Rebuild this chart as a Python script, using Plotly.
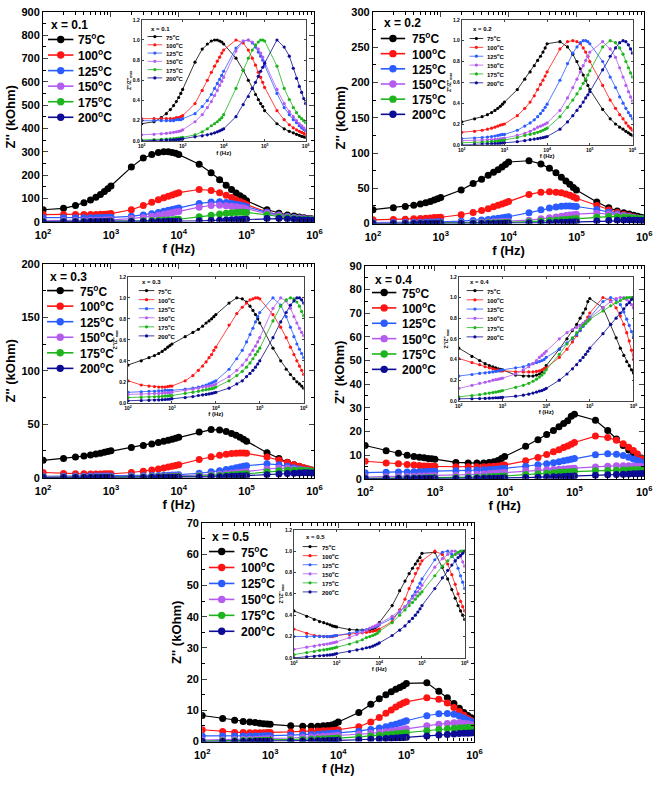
import plotly.graph_objects as go

W, H = 661, 785
FONT = "Arial, Liberation Sans, sans-serif"

# ---------------- data ----------------
freq_hz = [100, 200, 300, 400, 500, 600, 700, 800, 900,
           1e3, 2e3, 3e3, 4e3, 5e3, 6e3, 7e3, 8e3, 9e3,
           1e4, 2e4, 3e4, 4e4, 5e4, 6e4, 7e4, 8e4, 9e4,
           1e5, 2e5, 3e5, 4e5, 5e5, 6e5, 7e5, 8e5, 9e5, 1e6]
temps = ["75", "100", "125", "150", "175", "200"]
compositions = ["0.1", "0.2", "0.3", "0.4", "0.5"]
x_ticks = [1e2, 1e3, 1e4, 1e5, 1e6]
x_ticktext = ["10<sup>2</sup>", "10<sup>3</sup>", "10<sup>4</sup>", "10<sup>5</sup>", "10<sup>6</sup>"]

# normalized Z''/Z''max (insets); main curve = normalized * peak (kOhm)
n01_75 = [0.17,0.19,0.23,0.27,0.31,0.35,0.39,0.43,0.47, 0.51,0.78,0.91,0.96,0.99,1.00,1.00,0.99,0.98, 0.96,0.82,0.70,0.60,0.52,0.46,0.41,0.37,0.34, 0.30,0.17,0.12,0.095,0.08,0.065,0.055,0.045,0.04, 0.035]
n01_100 = [0.22,0.22,0.22,0.22,0.22,0.22,0.23,0.23,0.24, 0.25,0.37,0.50,0.60,0.68,0.74,0.79,0.83,0.87, 0.90,1.00,0.97,0.90,0.82,0.75,0.68,0.63,0.58, 0.53,0.30,0.21,0.16,0.13,0.11,0.095,0.085,0.075, 0.065]
n01_125 = [0.20,0.20,0.20,0.20,0.20,0.20,0.21,0.21,0.21, 0.22,0.27,0.34,0.40,0.46,0.52,0.57,0.61,0.65, 0.69,0.92,0.99,1.00,0.97,0.93,0.88,0.84,0.80, 0.75,0.47,0.33,0.26,0.21,0.18,0.15,0.13,0.115, 0.10]
n01_150 = [0.06,0.065,0.07,0.075,0.08,0.085,0.09,0.095,0.10, 0.11,0.19,0.26,0.33,0.39,0.45,0.50,0.55,0.59, 0.63,0.89,0.99,1.00,0.98,0.95,0.91,0.87,0.83, 0.78,0.51,0.37,0.29,0.24,0.20,0.17,0.15,0.13, 0.11]
n01_175 = [0.01,0.012,0.015,0.018,0.02,0.022,0.025,0.028,0.03, 0.035,0.06,0.09,0.12,0.15,0.17,0.19,0.21,0.23, 0.26,0.52,0.70,0.82,0.90,0.95,0.98,1.00,1.00, 0.99,0.74,0.52,0.41,0.33,0.28,0.24,0.22,0.20, 0.18]
n01_200 = [0.0,0.003,0.005,0.007,0.009,0.011,0.013,0.015,0.017, 0.02,0.04,0.05,0.06,0.07,0.08,0.09,0.10,0.11, 0.12,0.24,0.36,0.44,0.52,0.58,0.64,0.69,0.73, 0.77,1.00,0.93,0.84,0.72,0.62,0.54,0.48,0.42, 0.37]
peaks_x01 = [300, 138, 85, 70, 40, 14]

n02_75 = [0.22,0.25,0.27,0.29,0.31,0.33,0.35,0.37,0.39, 0.41,0.53,0.63,0.70,0.76,0.81,0.85,0.89,0.93, 0.97,0.99,0.94,0.87,0.80,0.73,0.67,0.62,0.57, 0.53,0.34,0.25,0.20,0.17,0.15,0.13,0.115,0.10, 0.09]
n02_100 = [0.12,0.13,0.14,0.15,0.16,0.17,0.18,0.19,0.195, 0.20,0.28,0.35,0.41,0.47,0.53,0.58,0.62,0.66, 0.70,0.92,0.99,1.00,0.99,0.97,0.93,0.89,0.85, 0.80,0.57,0.43,0.35,0.29,0.25,0.21,0.18,0.16, 0.14]
n02_125 = [0.06,0.065,0.07,0.075,0.08,0.085,0.09,0.095,0.10, 0.10,0.14,0.18,0.21,0.24,0.27,0.30,0.33,0.36, 0.39,0.62,0.78,0.88,0.94,0.98,1.00,1.00,0.99, 0.97,0.80,0.65,0.55,0.46,0.40,0.35,0.31,0.28, 0.25]
n02_150 = [0.04,0.042,0.045,0.048,0.05,0.052,0.055,0.058,0.06, 0.065,0.09,0.11,0.13,0.15,0.17,0.18,0.19,0.20, 0.21,0.33,0.45,0.55,0.63,0.70,0.76,0.81,0.85, 0.89,0.99,0.92,0.84,0.74,0.65,0.57,0.51,0.46, 0.42]
n02_175 = [0.02,0.022,0.025,0.028,0.03,0.033,0.036,0.04,0.043, 0.046,0.07,0.09,0.10,0.11,0.12,0.13,0.14,0.15, 0.16,0.27,0.36,0.43,0.49,0.54,0.59,0.63,0.67, 0.71,0.94,1.00,0.98,0.93,0.87,0.80,0.74,0.69, 0.65]
n02_200 = [0.0,0.003,0.005,0.007,0.009,0.011,0.013,0.015,0.017, 0.02,0.03,0.04,0.05,0.055,0.06,0.065,0.07,0.075, 0.08,0.15,0.22,0.28,0.33,0.37,0.41,0.45,0.48, 0.51,0.72,0.85,0.93,0.98,1.00,0.99,0.96,0.92, 0.88]
peaks_x02 = [90, 45, 25, 15, 10, 5]

n03_75 = [0.36,0.40,0.43,0.45,0.47,0.49,0.51,0.53,0.545, 0.56,0.63,0.67,0.70,0.73,0.76,0.78,0.80,0.82, 0.84,0.95,1.00,0.99,0.96,0.92,0.88,0.84,0.80, 0.76,0.52,0.40,0.32,0.27,0.23,0.20,0.18,0.16, 0.14]
n03_100 = [0.21,0.17,0.16,0.155,0.15,0.15,0.15,0.155,0.16, 0.16,0.21,0.26,0.31,0.35,0.39,0.43,0.46,0.50, 0.53,0.74,0.85,0.91,0.95,0.98,0.99,1.00,1.00, 0.99,0.84,0.72,0.62,0.53,0.46,0.40,0.35,0.31, 0.27]
n03_125 = [0.10,0.105,0.11,0.11,0.115,0.115,0.12,0.12,0.12, 0.12,0.13,0.14,0.15,0.16,0.17,0.18,0.19,0.20, 0.21,0.32,0.42,0.50,0.58,0.65,0.71,0.77,0.82, 0.86,1.00,0.93,0.82,0.72,0.63,0.56,0.51,0.47, 0.43]
n03_150 = [0.08,0.082,0.085,0.088,0.09,0.092,0.094,0.096,0.098, 0.10,0.12,0.13,0.14,0.15,0.155,0.16,0.165,0.17, 0.18,0.25,0.31,0.36,0.41,0.46,0.50,0.54,0.58, 0.62,0.90,1.00,0.97,0.90,0.82,0.76,0.71,0.67, 0.64]
n03_175 = [0.05,0.052,0.055,0.058,0.06,0.062,0.064,0.066,0.068, 0.07,0.09,0.10,0.11,0.12,0.125,0.13,0.135,0.14, 0.15,0.21,0.26,0.30,0.34,0.38,0.42,0.46,0.49, 0.52,0.78,0.92,0.98,1.00,0.99,0.96,0.92,0.87, 0.83]
n03_200 = [0.02,0.022,0.024,0.026,0.028,0.03,0.032,0.034,0.036, 0.04,0.05,0.06,0.07,0.075,0.08,0.085,0.09,0.095, 0.10,0.14,0.18,0.21,0.25,0.28,0.31,0.34,0.37, 0.40,0.62,0.77,0.86,0.93,0.97,1.00,1.00,0.98, 0.95]
peaks_x03 = [45, 23, 13, 9, 7, 4.5]

n04_75 = [0.51,0.43,0.39,0.36,0.34,0.33,0.32,0.31,0.305, 0.30,0.25,0.24,0.24,0.24,0.25,0.26,0.28,0.31, 0.34,0.50,0.60,0.68,0.74,0.80,0.85,0.89,0.96, 0.99,0.90,0.74,0.61,0.51,0.44,0.38,0.34,0.30, 0.27]
n04_100 = [0.41,0.37,0.35,0.33,0.32,0.31,0.30,0.30,0.29, 0.29,0.28,0.28,0.28,0.28,0.285,0.29,0.30,0.31, 0.32,0.42,0.50,0.57,0.63,0.68,0.73,0.77,0.81, 0.85,1.00,0.97,0.90,0.82,0.74,0.66,0.58,0.49, 0.40]
n04_125 = [0.24,0.255,0.265,0.27,0.275,0.28,0.285,0.29,0.295, 0.30,0.32,0.33,0.35,0.36,0.37,0.38,0.39,0.40, 0.42,0.50,0.56,0.60,0.64,0.68,0.72,0.75,0.78, 0.81,0.96,1.00,0.98,0.93,0.86,0.79,0.73,0.67, 0.62]
n04_150 = [0.12,0.15,0.17,0.18,0.19,0.20,0.205,0.21,0.215, 0.22,0.26,0.30,0.33,0.36,0.39,0.42,0.44,0.46, 0.48,0.60,0.66,0.69,0.71,0.73,0.75,0.77,0.78, 0.80,0.90,0.96,0.99,1.00,1.00,0.98,0.96,0.93, 0.90]
n04_175 = [0.04,0.05,0.06,0.07,0.075,0.08,0.085,0.09,0.095, 0.10,0.13,0.15,0.17,0.19,0.21,0.23,0.25,0.27, 0.30,0.45,0.55,0.61,0.66,0.70,0.73,0.75,0.77, 0.79,0.87,0.92,0.95,0.97,0.99,1.00,1.00,1.00, 1.00]
n04_200 = [0.02,0.02,0.022,0.024,0.026,0.028,0.03,0.03,0.032, 0.033,0.045,0.055,0.065,0.075,0.085,0.095,0.10,0.11, 0.12,0.20,0.26,0.31,0.35,0.39,0.42,0.45,0.48, 0.51,0.65,0.74,0.80,0.85,0.89,0.93,0.95,0.98, 1.00]
peaks_x04 = [27.5, 18, 10.5, 5.5, 3.8, 2.2]

n05_75 = [0.44,0.39,0.36,0.34,0.33,0.32,0.31,0.30,0.295, 0.29,0.265,0.26,0.26,0.26,0.265,0.27,0.28,0.30, 0.33,0.49,0.63,0.72,0.79,0.84,0.88,0.91,0.94, 0.98,0.99,0.85,0.74,0.64,0.56,0.49,0.44,0.40, 0.36]
n05_100 = [0.27,0.23,0.21,0.205,0.20,0.20,0.20,0.20,0.205, 0.21,0.22,0.23,0.235,0.24,0.245,0.25,0.255,0.26, 0.27,0.34,0.45,0.55,0.65,0.72,0.79,0.84,0.88, 0.91,1.00,0.97,0.88,0.78,0.69,0.60,0.53,0.48, 0.44]
n05_125 = [0.20,0.20,0.20,0.20,0.20,0.20,0.20,0.205,0.21, 0.21,0.23,0.245,0.255,0.265,0.275,0.285,0.29,0.30, 0.31,0.37,0.43,0.48,0.53,0.58,0.62,0.66,0.70, 0.74,0.92,0.99,1.00,0.97,0.91,0.84,0.77,0.71, 0.65]
n05_150 = [0.08,0.10,0.11,0.12,0.125,0.13,0.135,0.14,0.145, 0.15,0.19,0.22,0.24,0.26,0.28,0.29,0.30,0.31, 0.32,0.39,0.44,0.48,0.52,0.56,0.59,0.62,0.65, 0.68,0.85,0.93,0.97,1.00,1.00,0.98,0.95,0.90, 0.86]
n05_175 = [0.03,0.05,0.06,0.07,0.075,0.08,0.085,0.09,0.095, 0.10,0.13,0.15,0.17,0.19,0.20,0.21,0.22,0.23, 0.25,0.33,0.40,0.45,0.49,0.52,0.55,0.58,0.60, 0.62,0.77,0.86,0.91,0.95,0.97,0.99,1.00,1.00, 1.00]
n05_200 = [0.0,0.01,0.015,0.02,0.022,0.025,0.028,0.03,0.035, 0.04,0.06,0.075,0.085,0.095,0.10,0.11,0.12,0.13, 0.14,0.21,0.26,0.30,0.34,0.37,0.40,0.43,0.46, 0.49,0.65,0.75,0.82,0.87,0.91,0.94,0.96,0.98, 1.00]
peaks_x05 = [19, 14, 9, 6, 4.5, 2.8]

norm_sets = [
    [n01_75, n01_100, n01_125, n01_150, n01_175, n01_200],
    [n02_75, n02_100, n02_125, n02_150, n02_175, n02_200],
    [n03_75, n03_100, n03_125, n03_150, n03_175, n03_200],
    [n04_75, n04_100, n04_125, n04_150, n04_175, n04_200],
    [n05_75, n05_100, n05_125, n05_150, n05_175, n05_200],
]
peak_sets = [peaks_x01, peaks_x02, peaks_x03, peaks_x04, peaks_x05]
y_max = [900, 300, 200, 90, 70]
y_dtick = [100, 50, 50, 10, 10]

# ---------------- style / layout ----------------
colors = ["#000000", "#ff1414", "#2a5cff", "#b45cf0", "#1db41d", "#0c0c96"]

# pixel boxes (x0, x1, ytop, ybottom)
main_box = [(36, 314, 6, 219), (374, 652, 6, 221), (36, 314, 262, 479),
            (366, 652, 264, 480), (199, 478, 525, 747)]
inset_box = [(137, 305, 14, 137), (465, 640, 14, 141), (123, 303, 275, 403),
             (462, 641, 275, 401), (293, 468, 532, 662)]
# legends: (line x0, line x1, text x, title y, first entry y, entry step)
main_leg = [(41, 67, 70, 19, 34, 15.8), (382, 407, 412, 17, 33, 15.4),
            (40, 67, 72, 275, 289, 15.8), (373, 398, 402, 278, 291, 15.6),
            (206, 232, 237, 539, 554, 16.2)]
inset_leg = [(143, 158, 160, 23, 31, 8.4), (473, 487, 489, 23, 33, 9.0),
             (134, 150, 152, 280, 289, 9.2), (470, 487, 489, 280, 289, 9.4),
             (302, 317, 320, 539, 549, 9.2)]


def px(x):
    return x / W


def py(y):
    return 1 - y / H


fig = go.Figure()
minor_x = [m * 10 ** e for e in range(2, 6) for m in range(2, 10)]

for p in range(5):
    ma = 2 * p + 1
    ia = 2 * p + 2
    for k in range(6):
        shape = norm_sets[p][k]
        main_y = [v * peak_sets[p][k] for v in shape]
        fig.add_trace(go.Scatter(
            x=freq_hz, y=main_y, mode="lines+markers",
            xaxis=f"x{ma}", yaxis=f"y{ma}", showlegend=False,
            line=dict(color=colors[k], width=1.2),
            marker=dict(color=colors[k], size=7)))
        fig.add_trace(go.Scatter(
            x=freq_hz, y=shape, mode="lines+markers",
            xaxis=f"x{ia}", yaxis=f"y{ia}", showlegend=False,
            line=dict(color=colors[k], width=0.8),
            marker=dict(color=colors[k], size=3.2)))

    x0, x1, yt, yb = main_box[p]
    common = dict(showline=True, linecolor="black", linewidth=1.2, mirror="allticks",
                  ticks="inside", showgrid=False, zeroline=False)
    fig.layout[f"xaxis{ma}"] = dict(
        common, type="log", range=[2, 6], domain=[px(x0), px(x1)],
        anchor=f"y{ma}", tickvals=x_ticks, ticktext=x_ticktext, ticklen=5,
        ticklabelstandoff=3,
        tickfont=dict(family=FONT, size=11, color="black", weight="bold"),
        minor=dict(ticks="inside", ticklen=3, tickvals=minor_x, tickcolor="black"),
        title=dict(text="f (Hz)", standoff=2,
                   font=dict(family=FONT, size=13, color="black", weight="bold")))
    fig.layout[f"yaxis{ma}"] = dict(
        common, range=[0, y_max[p]], dtick=y_dtick[p], domain=[py(yb), py(yt)],
        anchor=f"x{ma}", ticklen=5,
        tickfont=dict(family=FONT, size=11, color="black", weight="bold"),
        minor=dict(ticks="inside", ticklen=3, dtick=y_dtick[p] / 2, tickcolor="black"),
        title=dict(text="Z'' (kOhm)", standoff=2,
                   font=dict(family=FONT, size=13, color="black", weight="bold")))

    ix0, ix1, iyt, iyb = inset_box[p]
    icommon = dict(showline=True, linecolor="#444", linewidth=0.8, mirror="allticks",
                   ticks="inside", ticklen=2, showgrid=False, zeroline=False)
    fig.layout[f"xaxis{ia}"] = dict(
        icommon, type="log", range=[2, 6], domain=[px(ix0), px(ix1)],
        anchor=f"y{ia}", tickvals=x_ticks, ticktext=x_ticktext,
        tickfont=dict(family=FONT, size=5, color="black", weight="bold"),
        title=dict(text="f (Hz)", standoff=2,
                   font=dict(family=FONT, size=6, color="black", weight="bold")))
    fig.layout[f"yaxis{ia}"] = dict(
        icommon, range=[0, 1.2], dtick=0.2, tickformat=".1f", domain=[py(iyb), py(iyt)],
        anchor=f"x{ia}",
        tickfont=dict(family=FONT, size=5, color="black", weight="bold"),
        title=dict(text="Z''/Z''<sub>max</sub>", standoff=1,
                   font=dict(family=FONT, size=5, color="black", weight="bold")))

    # legends drawn as shapes + annotations
    for (lx0, lx1, tx, ty, ey0, step), fs, r, lw in (
            (main_leg[p], 12, 3.7, 1.6), (inset_leg[p], 6, 1.6, 0.8)):
        fig.add_annotation(xref="paper", yref="paper", x=px(lx0 + 1), y=py(ty),
                           text=f"<b>x = {compositions[p]}</b>", showarrow=False,
                           xanchor="left", yanchor="middle",
                           font=dict(family=FONT, size=fs, color="black"))
        for k in range(6):
            ey = ey0 + k * step
            fig.add_shape(type="line", xref="paper", yref="paper",
                          x0=px(lx0), x1=px(lx1), y0=py(ey), y1=py(ey),
                          line=dict(color=colors[k], width=lw))
            fig.add_shape(type="circle", xref="paper", yref="paper",
                          xsizemode="pixel", ysizemode="pixel",
                          xanchor=px((lx0 + lx1) / 2), yanchor=py(ey),
                          x0=-r, x1=r, y0=-r, y1=r,
                          fillcolor=colors[k], line=dict(color=colors[k], width=0))
            fig.add_annotation(xref="paper", yref="paper", x=px(tx), y=py(ey),
                               text=f"<b>{temps[k]}<sup>o</sup>C</b>", showarrow=False,
                               xanchor="left", yanchor="middle",
                               font=dict(family=FONT, size=fs, color="black"))

fig.update_layout(width=W, height=H, autosize=False,
                  margin=dict(l=0, r=0, t=0, b=0),
                  paper_bgcolor="white", plot_bgcolor="white",
                  font=dict(family=FONT, color="black"))

fig.write_html("out.html", config={"displayModeBar": False},
               post_script="document.body.style.margin='0';")
